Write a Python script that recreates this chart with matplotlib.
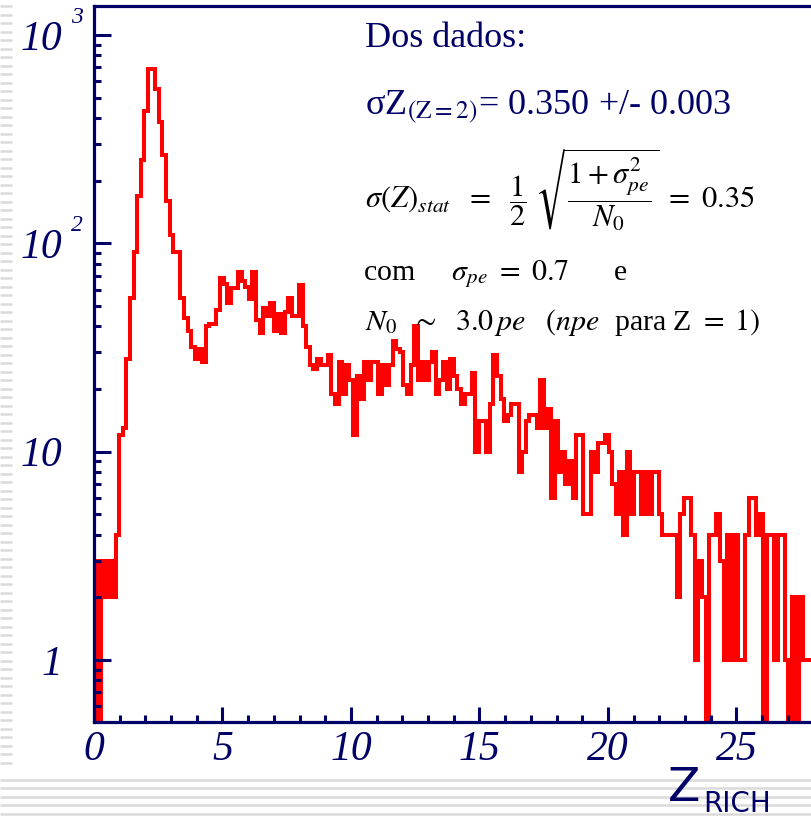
import numpy as np
import matplotlib.pyplot as plt
import matplotlib.transforms as mtransforms
from matplotlib.ticker import MultipleLocator, FixedLocator, NullFormatter

plt.rcParams['mathtext.fontset'] = 'stix'

# =========================
# Data
# =========================
z_min, z_max = 0.0, 28.0
counts = [
    3, 0, 3, 2, 3, 2, 4, 12, 13, 28, 55, 91, 169, 251, 430, 690, 690, 550, 384, 266,
    160, 110, 91, 91, 55, 44, 38, 32, 28, 31, 27, 40, 41, 41, 48, 68, 64, 52, 61, 61,
    73, 66, 62, 54, 73, 43, 37, 49, 45, 52, 38, 46, 37, 47, 55, 45, 45, 63, 40, 32,
    26, 25, 28, 26, 26, 29, 19, 17, 27, 19, 26, 22, 12, 23, 18, 27, 22, 27, 27, 19,
    26, 21, 26, 34, 31, 30, 21, 19, 26, 40, 22, 27, 22, 27, 30, 19, 22, 27, 20, 28,
    23, 20, 17, 19, 19, 24, 10, 14, 14, 10, 17, 29, 23, 18, 14, 15, 17, 17, 8, 10,
    14, 15, 15, 13, 22, 13, 16, 6, 14, 8, 10, 7, 9, 6, 12, 12, 5, 5, 10, 8,
    11, 11, 12, 10, 7, 5, 8, 4, 10, 5, 8, 8, 5, 8, 5, 8, 8, 5, 4, 4,
    4, 4, 2, 5, 6, 6, 4, 1, 3, 2, 0, 4, 4, 5, 3, 1, 4, 1, 4, 1,
    1, 4, 6, 6, 4, 5, 0, 4, 4, 1, 4, 4, 1, 0, 2, 0, 2, 1, 1, 1,
]
ytick_vals = [1, 10, 100, 1000]
ytick_base = ["1", "10", "10", "10"]
ytick_exp = ["", "", "2", "3"]
xtick_step = 5

navy = "#000066"

counts = np.array(counts, dtype=float)
edges = np.linspace(z_min, z_max, len(counts) + 1)

fig = plt.figure(figsize=(8.11, 8.19), dpi=100)
fig.patch.set_facecolor("white")

# slide background stripes (left strip and bottom band)
bg = fig.add_axes([0, 0, 1, 1], zorder=0)
bg.set_axis_off()
bg.set_xlim(0, 811)
bg.set_ylim(819, 0)
for y in np.arange(6, 819, 8.5):
    if y > 773:
        bg.hlines(y, 0, 811, color="#dadada", lw=1.8)
    elif y < 767:
        bg.hlines(y, 0, 12, color="#dadada", lw=1.8)

# main axes
ax = fig.add_axes([94 / 811, 97 / 819, 719.6 / 811, 716 / 819], zorder=1)
ax.set_facecolor("white")

plot_counts = np.where(counts > 0, counts, 1e-3)
ax.stairs(plot_counts, edges, baseline=1e-3, color="#ff0000", lw=2.9)

ax.set_yscale("log")
ax.set_xlim(z_min, z_max)
ax.set_ylim(0.504, 1380)

for side in ["left", "bottom", "top"]:
    ax.spines[side].set_color(navy)
    ax.spines[side].set_linewidth(2.3)
ax.spines["right"].set_visible(False)

ax.xaxis.set_major_locator(MultipleLocator(xtick_step))
ax.xaxis.set_minor_locator(MultipleLocator(1))
ax.tick_params(axis="x", which="major", direction="in", length=11, width=2.2,
               color=navy, labelcolor=navy, pad=6)
ax.tick_params(axis="x", which="minor", direction="in", length=5, width=2.2, color=navy)
for lab in ax.get_xticklabels():
    lab.set_fontfamily("Liberation Serif")
    lab.set_fontstyle("italic")
    lab.set_fontsize(30)

minor_y = [m * 10.0 ** e for e in range(-1, 4) for m in range(2, 10)]
ax.yaxis.set_major_locator(FixedLocator(ytick_vals))
ax.yaxis.set_minor_locator(FixedLocator(minor_y))
ax.yaxis.set_major_formatter(NullFormatter())
ax.yaxis.set_minor_formatter(NullFormatter())
ax.tick_params(axis="y", which="major", direction="in", length=12, width=2.2, color=navy)
ax.tick_params(axis="y", which="minor", direction="in", length=5, width=2.2, color=navy)

trans = mtransforms.blended_transform_factory(ax.transAxes, ax.transData)
for v, base, exp in zip(ytick_vals, ytick_base, ytick_exp):
    ax.text(-0.044, v, base, transform=trans, ha="right", va="center_baseline",
            fontsize=30, family="Liberation Serif", style="italic", color=navy)
    if exp:
        ax.annotate(exp, xy=(-0.044, v), xycoords=trans, xytext=(6, 5),
                    textcoords="offset points", ha="left", va="bottom",
                    fontsize=17, family="Liberation Serif", style="italic", color=navy)

# annotations
def fx(px):
    return px / 811


def fy(py):
    return 1 - py / 819


serif = "Liberation Serif"
fig.text(fx(365), fy(47), "Dos dados:", fontsize=26, family=serif, color=navy, va="baseline")
fig.text(fx(365), fy(115), r"σZ$_{\mathrm{(Z{=}2)}}$= 0.350 +/- 0.003", fontsize=26,
         family=serif, color=navy, va="baseline")
fig.text(fx(365), fy(208),
         r"$\sigma\left(Z\right)_{stat}\ \ =\ \ \dfrac{1}{2}\ \sqrt{\dfrac{1+\sigma_{pe}^{2}}{N_{0}}}\ =\ 0.35$",
         fontsize=22, family=serif, color="black", va="baseline")
fig.text(fx(363), fy(280), r"com     $\sigma_{pe}\ =\ 0.7$      e", fontsize=21.5,
         family=serif, color="black", va="baseline")
fig.text(fx(365), fy(330), r"$N_{0}\ \ \sim\ \ 3.0\,pe\quad(npe$  para Z $=\ 1)$", fontsize=21.5,
         family=serif, color="black", va="baseline")

fig.text(fx(668), fy(801), "Z", fontsize=34, family="DejaVu Sans", color=navy, va="baseline")
fig.text(fx(703), fy(812), "RICH", fontsize=20, family="DejaVu Sans", color=navy, va="baseline")

fig.savefig("out.png", dpi=100)
